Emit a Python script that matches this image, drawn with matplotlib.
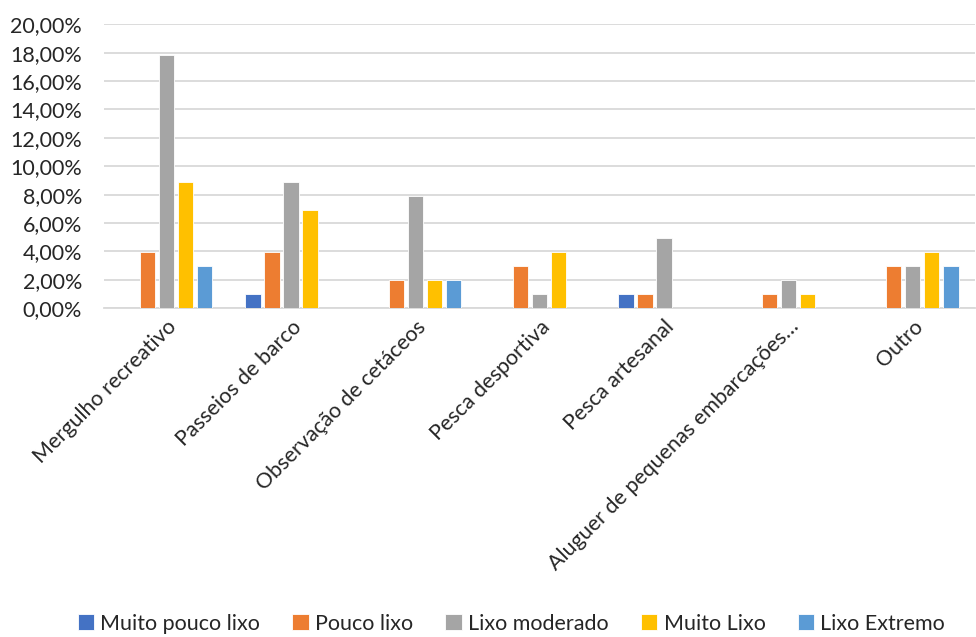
import matplotlib.pyplot as plt
import numpy as np
from matplotlib.ticker import FuncFormatter

# respostas por atividade (n = 101 inquiridos)
n_total = 101
categorias = ["Mergulho recreativo", "Passeios de barco", "Observação de cetáceos",
              "Pesca desportiva", "Pesca artesanal",
              "Aluguer de pequenas embarcações…", "Outro"]
series = ["Muito pouco lixo", "Pouco lixo", "Lixo moderado", "Muito Lixo", "Lixo Extremo"]
muito_pouco = [0, 1, 0, 0, 1, 0, 0]
pouco = [4, 4, 2, 3, 1, 1, 3]
moderado = [18, 9, 8, 1, 5, 2, 3]
muito = [9, 7, 2, 4, 0, 1, 4]
extremo = [3, 0, 2, 0, 0, 0, 3]
cores = ["#4472C4", "#ED7D31", "#A5A5A5", "#FFC000", "#5B9BD5"]

plt.rcParams['font.family'] = ['Lato', 'DejaVu Sans']

fig = plt.figure(figsize=(9.76, 6.37), dpi=100)
ax = fig.add_axes([0.107, 0.516, 0.892, 0.446])

x = np.arange(len(categorias))
largura = 0.153
for i, (nome, contagens) in enumerate(zip(series, [muito_pouco, pouco, moderado, muito, extremo])):
    valores = np.array(contagens) / n_total * 100
    ax.bar(x + (i - 2) * largura, valores, width=largura * 0.8, color=cores[i],
           label=nome, edgecolor="white", linewidth=0.6, zorder=3)

ax.set_ylim(0, 20)
ax.set_xlim(-0.5, len(categorias) - 0.5)
ax.set_yticks(np.arange(0, 21, 2))
ax.yaxis.set_major_formatter(FuncFormatter(lambda v, p: f"{v:.2f}%".replace(".", ",")))
ax.grid(axis="y", color="#D9D9D9", linewidth=1.3, zorder=0)
for s in ["top", "right", "left"]:
    ax.spines[s].set_visible(False)
ax.spines["bottom"].set_color("#D9D9D9")
ax.spines["bottom"].set_linewidth(1.3)
ax.tick_params(length=0, labelsize=15.5, colors="#262626")
ax.tick_params(axis="y", pad=16)
ax.tick_params(axis="x", pad=6)
ax.set_xticks(x)
ax.set_xticklabels(categorias, rotation=45, ha="right", rotation_mode="anchor")

fig.legend(loc="lower center", bbox_to_anchor=(0.524, -0.025), ncol=5, frameon=False,
           fontsize=15.5, handlelength=0.75, handleheight=0.75, handletextpad=0.3,
           columnspacing=1.5, labelcolor="#262626")

fig.savefig("out.png", dpi=100)
